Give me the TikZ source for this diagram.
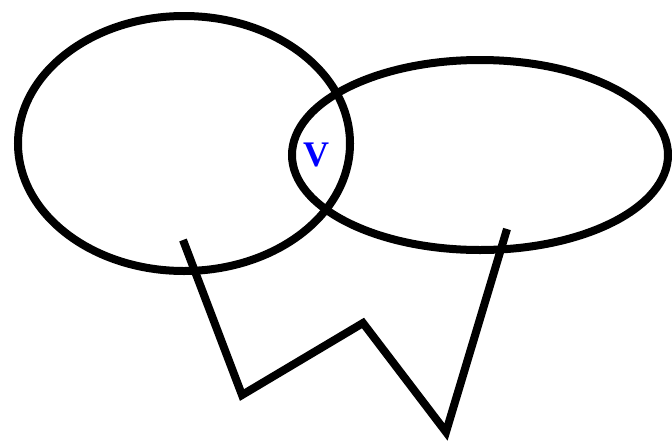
\documentclass[tikz,border=0pt]{standalone}
\usepackage{fontspec}
\setmainfont{Liberation Serif}
\begin{document}
\begin{tikzpicture}[x=1pt,y=-1pt,line width=8pt,
  thickline/.style={draw=black,line width=8pt},
  lbl/.style={text=blue,font=\fontsize{36}{40}\selectfont\bfseries,inner sep=0pt}]
\useasboundingbox (0,0) rectangle (672,445);
\draw[thickline] (184,143.5) ellipse [x radius=166, y radius=127.5];
\draw[thickline] (480,155) ellipse [x radius=188, y radius=95];
\coordinate (p0) at (183,240);
\coordinate (p1) at (242,395);
\coordinate (p2) at (363,323);
\coordinate (p3) at (446,432);
\coordinate (p4) at (507,229);
\draw[thickline,miter limit=10] (p0) -- (p1) -- (p2) -- (p3) -- (p4);
\node[lbl] (v) at (316,155) {V};
\end{tikzpicture}
\end{document}
